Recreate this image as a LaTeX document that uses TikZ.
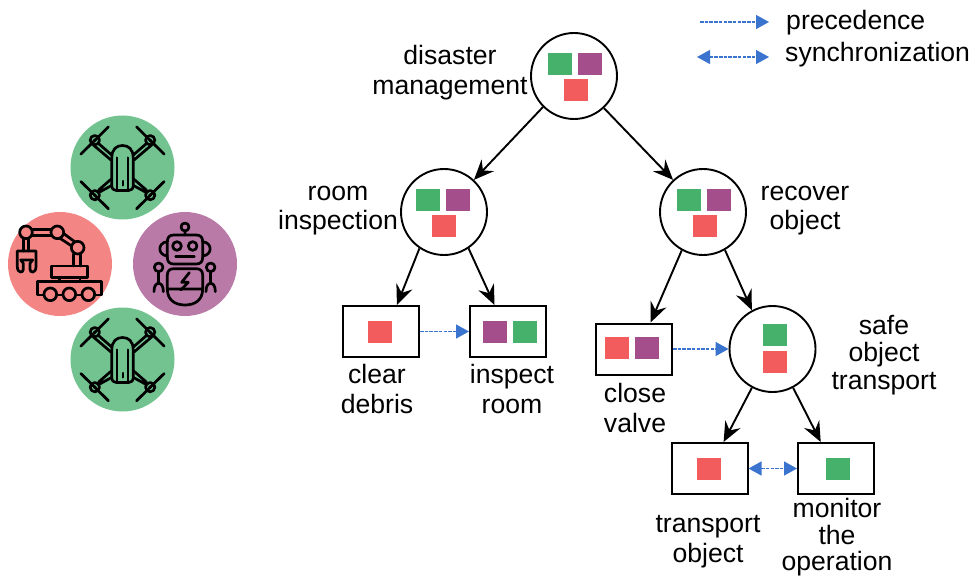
\documentclass[tikz,border=0pt]{standalone}
\usepackage{fontspec}
\setmainfont{Liberation Sans}
\usetikzlibrary{arrows.meta}
\definecolor{sqgreen}{HTML}{45B16B}
\definecolor{sqpurple}{HTML}{A44F8B}
\definecolor{sqred}{HTML}{F25C5C}
\definecolor{bggreen}{HTML}{72C38F}
\definecolor{bgred}{HTML}{F48585}
\definecolor{bgpurple}{HTML}{B97AA8}
\definecolor{linkblue}{HTML}{3A74CF}
\tikzset{
  x=1pt,y=-1pt,
  task/.style={draw=black,line width=1.9pt,fill=white,circle,minimum size=86pt,inner sep=0pt},
  leaf/.style={draw=black,line width=2pt,fill=white,rectangle,minimum width=76pt,minimum height=51pt,inner sep=0pt},
  sq/.style={rectangle,minimum width=24pt,minimum height=22pt,inner sep=0pt,fill=#1},
  treearrow/.style={draw=black,line width=1.9pt,-{Stealth[length=20pt,width=17pt,inset=7pt]}},
  prec/.style={draw=linkblue,line width=1.3pt,dash pattern=on 3.5pt off 1.2pt,-{Triangle[length=13pt,width=14pt]}},
  sync/.style={draw=linkblue,line width=1.3pt,dash pattern=on 3.5pt off 1.2pt,{Triangle[length=13pt,width=14pt]}-{Triangle[length=13pt,width=14pt]}},
  lbl/.style={align=center,inner sep=0pt,font=\fontsize{26.6}{29.5}\selectfont},
  lbltight/.style={align=center,inner sep=0pt,font=\fontsize{26.6}{27.2}\selectfont},
  lblmon/.style={align=center,inner sep=0pt,font=\fontsize{26.6}{26.6}\selectfont},
  icon/.style={draw=black,line width=2.7pt,line cap=round,line join=round},
  disc/.style={circle,minimum size=104pt,inner sep=0pt},
}
\newcommand{\dronerotor}[2]{%
  \draw[icon] (#1,#2) circle (14);
  \draw[icon,line width=1.6pt] (#1,#2) circle (3);
}
\newcommand{\droneicon}[1]{%
 \begin{scope}[shift={(122.5,#1)},scale=1/3]
  \draw[icon] (-125,-40) -- (-42,-122) (125,-40) -- (42,-122) (-125,42) -- (-42,124) (125,42) -- (42,124);
  \dronerotor{-83}{-82}\dronerotor{83}{-82}\dronerotor{-83}{83}\dronerotor{83}{83}
  \draw[icon] (-72,-72) -- (-33,-38) (-88,-68) -- (-34,-22) (72,-72) -- (33,-38) (88,-68) -- (34,-22);
  \draw[icon] (-71,75) -- (-33,54) (-72,68) -- (-33,34) (71,75) -- (33,54) (72,68) -- (33,34);
  \draw[icon] (-32,-30) .. controls (-32,-55) and (-18,-66) .. (0,-66) .. controls (18,-66) and (32,-55) .. (32,-30) -- (32,55) .. controls (32,65) and (25,69) .. (18,69) -- (-18,69) .. controls (-25,69) and (-32,65) .. (-32,55) -- cycle;
  \draw[icon,line width=2pt] (-16,-30) -- (-16,68) (16,-30) -- (16,68);
  \draw[icon,line width=2pt] (0,40) -- (0,54);
 \end{scope}}
\begin{document}
\begin{tikzpicture}
\useasboundingbox (0,0) rectangle (973,577);
% robot team
\node[disc,fill=bggreen] (dronetop) at (122.5,167.5) {};
\node[disc,fill=bgred] (armdisc) at (60,264) {};
\node[disc,fill=bgpurple] (botdisc) at (185,264) {};
\node[disc,fill=bggreen] (dronebot) at (122.5,359.5) {};
\droneicon{167.5}
\droneicon{359.5}
\begin{scope}[shift={(0,120)},scale=1/3]
 % arm
 \draw[icon] (97,328) -- (153,328) (97,346) -- (153,346);
 \draw[icon] (190,340) -- (224,365) (180,355) -- (215,378);
 \draw[icon] (221,402) -- (221,438) (241,402) -- (241,438);
 \draw[icon] (70,356) -- (70,393) (86,356) -- (86,393);
 \draw[icon] (78,337) circle (19) (172,337) circle (19) (233,383) circle (19);
 \draw[icon] (52,393) -- (108,393) -- (108,440) .. controls (108,460) and (90,460) .. (90,448) -- (90,430) -- (98,420) -- (62,420) -- (70,430) -- (70,448) .. controls (70,460) and (52,460) .. (52,440) -- cycle;
 \draw[icon] (155,438) rectangle (263,472);
 \draw[icon] (178,472) rectangle (240,485);
 \draw[icon] (112,485) rectangle (305,525);
 \draw[icon,fill=bgred] (151,523) circle (19) (208,523) circle (19) (265,523) circle (19);
 % bot
 \draw[icon] (555,321) circle (12) (555,333) -- (555,345);
 \draw[icon] (522,345) -- (588,345) .. controls (602,345) and (608,352) .. (608,365) -- (608,412) .. controls (608,425) and (602,432) .. (588,432) -- (522,432) .. controls (508,432) and (502,425) .. (502,412) -- (502,365) .. controls (502,352) and (508,345) .. (522,345) -- cycle;
 \draw[icon] (502,365) .. controls (472,368) and (472,405) .. (502,408);
 \draw[icon] (608,365) .. controls (638,368) and (638,405) .. (608,408);
 \draw[icon] (531,378) circle (13) (578,378) circle (13);
 \draw[icon] (527,410) -- (583,410);
 \draw[icon] (502,507) -- (502,465) .. controls (502,452) and (510,446) .. (522,446) -- (588,446) .. controls (600,446) and (608,452) .. (608,465) -- (608,507) -- cycle;
 \draw[icon] (502,507) .. controls (502,540) and (525,555) .. (555,555) .. controls (585,555) and (608,540) .. (608,507);
 \draw[icon] (568,458) -- (545,487) -- (565,487) -- (542,510);
 \draw[icon] (476,442) circle (13) (632,442) circle (13);
 \draw[icon] (476,455) -- (476,490) (632,455) -- (632,490);
 \draw[icon] (462,515) .. controls (462,498) and (468,490) .. (476,490) .. controls (484,490) and (490,498) .. (490,515);
 \draw[icon] (618,515) .. controls (618,498) and (624,490) .. (632,490) .. controls (640,490) and (646,498) .. (646,515);
\end{scope}
% tasks
\node[task] (dm) at (574,76) {};
\node[task] (room) at (444,212) {};
\node[task] (recover) at (703,212) {};
\node[task] (safe) at (772.5,349) {};
\node[leaf] (clear) at (381,331.5) {};
\node[leaf] (inspect) at (508,331.5) {};
\node[leaf] (close) at (634,349) {};
\node[leaf] (transport) at (709.5,468.5) {};
\node[leaf] (monitor) at (836,468.5) {};
% connectors
\draw[treearrow] (dm.-135) -- (room.47);
\draw[treearrow] (dm.-47) -- (recover.133);
\draw[treearrow] (room.-124) -- (clear.59);
\draw[treearrow] (room.-56) -- (inspect.117);
\draw[treearrow] (recover.-119) -- (close.58);
\draw[treearrow] (recover.-60) -- (safe.118);
\draw[treearrow] (safe.-118) -- (transport.62);
\draw[treearrow] (safe.-62) -- (monitor.120);
\draw[prec] (clear.east) -- (inspect.west);
\draw[prec] (close.east) -- (safe.west);
\draw[sync] (transport.east) -- (monitor.west);
% robot requirement squares
\node[sq=sqgreen] (dmg) at (560,64) {};
\node[sq=sqpurple] (dmp) at (590,64) {};
\node[sq=sqred] (dmr) at (576,90) {};
\node[sq=sqgreen] (rmg) at (428,200) {};
\node[sq=sqpurple] (rmp) at (458,200) {};
\node[sq=sqred] (rmr) at (444,226) {};
\node[sq=sqgreen] (rcg) at (689,200) {};
\node[sq=sqpurple] (rcp) at (719,200) {};
\node[sq=sqred] (rcr) at (705,226) {};
\node[sq=sqred] (clr) at (380,332) {};
\node[sq=sqpurple] (inp) at (495,332) {};
\node[sq=sqgreen] (ing) at (525,332) {};
\node[sq=sqred] (cvr) at (617,348) {};
\node[sq=sqpurple] (cvp) at (647,348) {};
\node[sq=sqgreen] (sfg) at (775,335) {};
\node[sq=sqred] (sfr) at (775,362) {};
\node[sq=sqred] (trr) at (709,469) {};
\node[sq=sqgreen] (mog) at (838,469) {};
% labels
\node[lbl] (ldm) at (450,72.5) {disaster\\management};
\node[lbl] (lroom) at (338,210.5) {room\\inspection};
\node[lbl] (lrec) at (805,210.5) {recover\\object};
\node[lbl] (lclear) at (377,389) {clear\\debris};
\node[lbl] (lins) at (512,389) {inspect\\room};
\node[lbl] (lclose) at (635,408) {close\\valve};
\node[lbltight] (lsafe) at (884,355) {safe\\object\\transport};
\node[lbl] (ltr) at (708,541.5) {transport\\object};
\node[lblmon] (lmo) at (837,537.5) {monitor\\the\\operation};
% legend
\coordinate (pa) at (700,22);
\coordinate (pb) at (769,22);
\coordinate (sa) at (697,57);
\coordinate (sb) at (769,57);
\draw[prec] (pa) -- (pb);
\draw[sync] (sa) -- (sb);
\node[lbl,anchor=west] (lp) at (786,23) {precedence};
\node[lbl,anchor=west] (ls) at (785,55) {synchronization};
\end{tikzpicture}
\end{document}
